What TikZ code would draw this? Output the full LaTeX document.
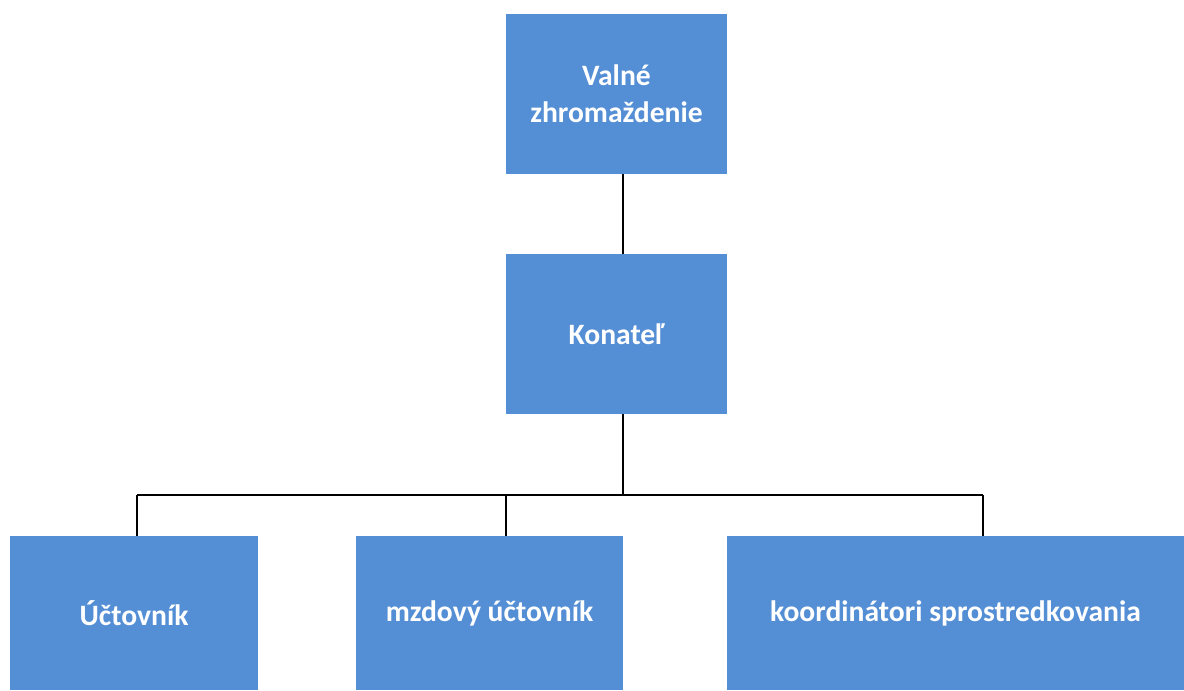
\documentclass[tikz,border=0pt]{standalone}
\usepackage{fontspec}
\setmainfont{Carlito}
\usepackage{tikz}
\usetikzlibrary{positioning}

\definecolor{boxblue}{RGB}{84,142,213}

\begin{document}
\begin{tikzpicture}
		[x=0.75pt, y=-0.75pt,
		 unit/.style={rectangle, fill=boxblue, text=white, inner sep=0pt, align=center,
		   font=\fontsize{22.2}{27.5}\selectfont\bfseries},
		 link/.style={draw=black, line width=1.5pt}]
		\useasboundingbox (0,0) rectangle (1184,690);

		\node[unit, minimum width=221*0.75pt, minimum height=160*0.75pt] (vz) at (616.5,94) {Valné\\zhromaždenie};
		\node[unit, minimum width=221*0.75pt, minimum height=160*0.75pt] (kon) at (616.5,334) {Konateľ};
		\node[unit, minimum width=248*0.75pt, minimum height=154*0.75pt] (uct) at (134,613) {Účtovník};
		\node[unit, minimum width=267*0.75pt, minimum height=154*0.75pt] (mzd) at (489.5,613) {mzdový účtovník};
		\node[unit, minimum width=457*0.75pt, minimum height=154*0.75pt] (koo) at (955.5,613) {koordinátori sprostredkovania};

		\coordinate (split) at (623,495);
		\coordinate (d1) at (137,495);
		\coordinate (d2) at (506,495);
		\coordinate (d3) at (983,495);

		\draw[link] (vz.south -| split) -- (kon.north -| split);
		\draw[link] (kon.south -| split) -- (split);
		\draw[link] (d1) -- (d3);
		\draw[link] (d1) -- (d1 |- uct.north);
		\draw[link] (d2) -- (d2 |- mzd.north);
		\draw[link] (d3) -- (d3 |- koo.north);
	\end{tikzpicture}
\end{document}
